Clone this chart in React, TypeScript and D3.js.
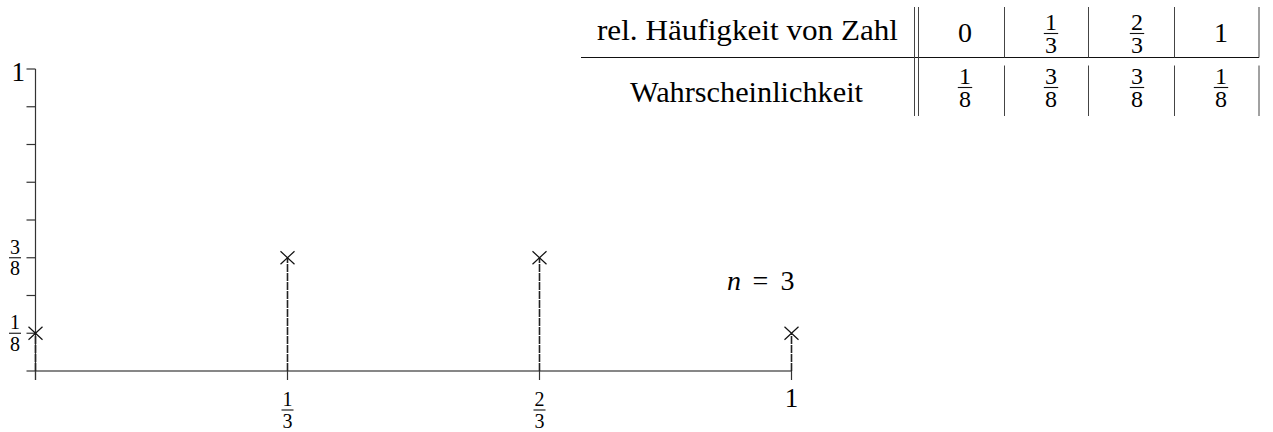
import React from "react";
import * as d3 from "d3";

// === Data: rel. Häufigkeit von Zahl (n = 3 Würfe) ===
const n = 3;
const relFreq = [0, 1 / 3, 2 / 3, 1];
const relFreqLabels = ["0", "1/3", "2/3", "1"];
const probability = [1 / 8, 3 / 8, 3 / 8, 1 / 8];
const probLabels = ["1/8", "3/8", "3/8", "1/8"];
const yTicks = [1 / 8, 2 / 8, 3 / 8, 4 / 8, 5 / 8, 6 / 8, 7 / 8, 1];
const yTickLabels = ["1/8", "", "3/8", "", "", "", "", "1"];

const FONT = "'Liberation Serif', 'DejaVu Serif', serif";

const Label = ({ x, y, text, size, frac = 20, gap = 0.88, anchor = "middle" }) => {
    // fractions are drawn stacked around y (the fraction bar), plain numbers sit on baseline y
    if (!text.includes("/")) {
        return (
            <text x={x} y={y} fontSize={size} textAnchor={anchor} fontFamily={FONT}>
                {text}
            </text>
        );
    }
    const [num, den] = text.split("/");
    const w = frac * 0.6;
    return (
        <g fontFamily={FONT} fontSize={frac} textAnchor="middle">
            <text x={x} y={y - 4}>{num}</text>
            <line x1={x - w / 2} x2={x + w / 2} y1={y} y2={y} stroke="#111" strokeWidth={1.1} />
            <text x={x} y={y + frac * gap}>{den}</text>
        </g>
    );
};

export default function App() {
    const x = d3.scaleLinear().domain([0, 1]).range([35.5, 791.5]);
    const y = d3.scaleLinear().domain([0, 1]).range([371, 69]);
    const tick = 9;

    // table layout
    const colCenters = [965, 1051, 1137, 1221];
    const colLines = [1004.5, 1088.5, 1174.5, 1259];
    const rowLineY = 57.5;

    return (
        <div style={{ position: "absolute", left: 0, top: 0 }}>
            <svg width={1273} height={432} style={{ display: "block", background: "#fff" }}>
                {/* === Axes === */}
                <line x1={x(0) - tick} x2={x(1)} y1={y(0)} y2={y(0)} stroke="#111" strokeWidth={1.2} />
                <line x1={x(0)} x2={x(0)} y1={y(1)} y2={y(0) + tick} stroke="#333" strokeWidth={1.2} />
                {yTicks.map((t, i) => (
                    <g key={"yt" + i}>
                        <line x1={x(0) - tick} x2={x(0)} y1={y(t)} y2={y(t)} stroke="#333" strokeWidth={1.2} />
                        {yTickLabels[i] && (
                            yTickLabels[i].includes("/")
                                ? <Label x={15} y={y(t)} text={yTickLabels[i]} size={27} />
                                : <Label x={25} y={y(t) + 12} text={yTickLabels[i]} size={27} anchor="end" />
                        )}
                    </g>
                ))}
                {relFreq.map((v, i) => (
                    <g key={"xt" + i}>
                        <line x1={x(v)} x2={x(v)} y1={y(0)} y2={y(0) + tick} stroke="#333" strokeWidth={1.2} />
                        {i > 0 && (
                            relFreqLabels[i].includes("/")
                                ? <Label x={x(v)} y={y(0) + 39} text={relFreqLabels[i]} size={27} />
                                : <Label x={x(v)} y={y(0) + 36} text={relFreqLabels[i]} size={27} />
                        )}
                    </g>
                ))}

                {/* === Stems and crosses === */}
                {relFreq.map((v, i) => {
                    const cx = x(v);
                    const cy = y(probability[i]);
                    return (
                        <g key={"pt" + i}>
                            <line x1={cx} x2={cx} y1={y(0)} y2={cy} stroke="#222" strokeWidth={1.6} strokeDasharray="8 1" />
                            <path
                                d={`M${cx - 7},${cy - 6.5}L${cx + 7},${cy + 6.5}M${cx - 7},${cy + 6.5}L${cx + 7},${cy - 6.5}`}
                                stroke="#111"
                                strokeWidth={1.2}
                                fill="none"
                            />
                        </g>
                    );
                })}

                <g fontSize={28} fontFamily={FONT}>
                    <text x={727} y={290} fontStyle="italic">n</text>
                    <text x={760.5} y={290} textAnchor="middle">=</text>
                    <text x={787.5} y={290} textAnchor="middle">{n}</text>
                </g>

                {/* === Table === */}
                <line x1={581} x2={1259} y1={rowLineY} y2={rowLineY} stroke="#111" strokeWidth={1.2} />
                {[914.5, 918.5].map(lx => (
                    <line key={lx} x1={lx} x2={lx} y1={7} y2={116} stroke="#444" strokeWidth={1} />
                ))}
                {colLines.map(lx => (
                    <g key={lx}>
                        <line x1={lx} x2={lx} y1={7} y2={rowLineY} stroke="#444" strokeWidth={1} />
                        <line x1={lx} x2={lx} y1={rowLineY + 8} y2={116} stroke="#444" strokeWidth={1} />
                    </g>
                ))}
                <text x={597} y={40} fontSize={30} fontFamily={FONT} textLength={301} lengthAdjust="spacingAndGlyphs">
                    rel. Häufigkeit von Zahl
                </text>
                <text x={630} y={102} fontSize={30} fontFamily={FONT} textLength={233} lengthAdjust="spacingAndGlyphs">
                    Wahrscheinlichkeit
                </text>
                {relFreqLabels.map((t, i) =>
                    t.includes("/")
                        ? <Label key={"r" + i} x={colCenters[i]} y={33.5} text={t} size={28} frac={24} gap={0.82} />
                        : <Label key={"r" + i} x={colCenters[i]} y={42} text={t} size={28} />
                )}
                {probLabels.map((t, i) => (
                    <Label key={"p" + i} x={colCenters[i]} y={87.5} text={t} size={28} frac={24} gap={0.82} />
                ))}
            </svg>
        </div>
    );
}
